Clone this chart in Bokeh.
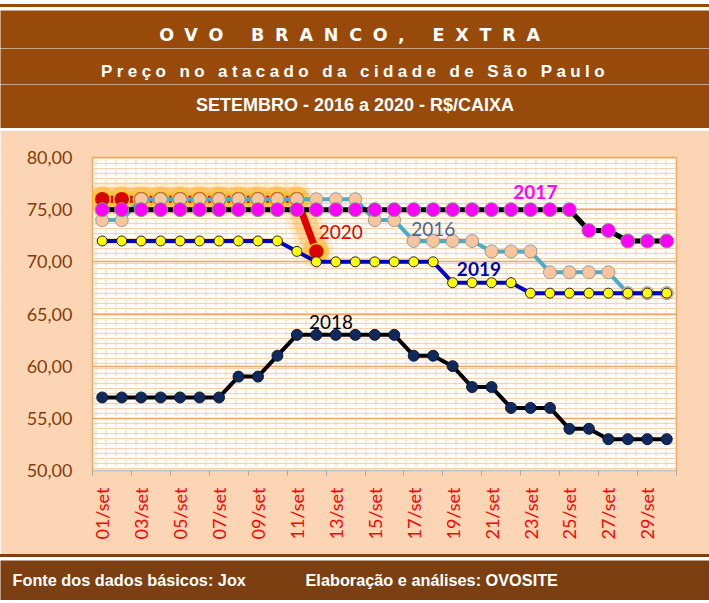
from bokeh.plotting import figure
from bokeh.layouts import column
from bokeh.models import Range1d, FixedTicker, BoxAnnotation, Label, Div
from bokeh.core.properties import value
from bokeh.embed import file_html
from bokeh.resources import INLINE
from math import pi

# ---------------- data ----------------
days = list(range(1, 31))
x_tick_days = [1, 3, 5, 7, 9, 11, 13, 15, 17, 19, 21, 23, 25, 27, 29]
x_tick_labels = ["01/set", "03/set", "05/set", "07/set", "09/set", "11/set", "13/set",
                 "15/set", "17/set", "19/set", "21/set", "23/set", "25/set", "27/set", "29/set"]
y_ticks = [50, 55, 60, 65, 70, 75, 80]
y_tick_labels = ["50,00", "55,00", "60,00", "65,00", "70,00", "75,00", "80,00"]

y2016 = [74, 74, 76, 76, 76, 76, 76, 76, 76, 76, 76, 76, 76, 76, 74,
         74, 72, 72, 72, 72, 71, 71, 71, 69, 69, 69, 69, 67, 67, 67]
y2017 = [75, 75, 75, 75, 75, 75, 75, 75, 75, 75, 75, 75, 75, 75, 75,
         75, 75, 75, 75, 75, 75, 75, 75, 75, 75, 73, 73, 72, 72, 72]
y2018 = [57, 57, 57, 57, 57, 57, 57, 59, 59, 61, 63, 63, 63, 63, 63,
         63, 61, 61, 60, 58, 58, 56, 56, 56, 54, 54, 53, 53, 53, 53]
y2019 = [72, 72, 72, 72, 72, 72, 72, 72, 72, 72, 71, 70, 70, 70, 70,
         70, 70, 70, 68, 68, 68, 68, 67, 67, 67, 67, 67, 67, 67, 67]
y2020 = [76, 76, 76, 76, 76, 76, 76, 76, 76, 76, 76, 71]
days2020 = days[:len(y2020)]

series_names = ["2016", "2017", "2018", "2019", "2020"]
# label anchor positions (day, price) for the series names
label_pos = {"2016": (18.0, 73.1), "2017": (23.25, 76.65), "2018": (12.75, 64.25),
             "2019": (20.35, 69.3), "2020": (13.25, 72.85)}

title_txt = "OVO BRANCO, EXTRA"
sub_txt = "Preço no atacado da cidade de São Paulo"
period_txt = "SETEMBRO - 2016 a 2020 - R$/CAIXA"
footer_left = "Fonte dos dados básicos: Jox"
footer_right = "Elaboração e análises: OVOSITE"

# ---------------- styles ----------------
W = 709
FL, FR = 92, 33
BROWN = "#974A0A"
BROWN_FOOT = "#7B3F12"
PEACH = "#FCD5B5"
TITLE_FONT = "Liberation Sans"
WIDE_FONT = "'DejaVu Sans'"
NARROW_FONT = "'Liberation Sans Narrow', 'Arial Narrow', 'Liberation Sans'"
CHART_FONT = "Lato"


def band(h, color):
    return Div(text="", width=W, height=h, styles={"background-color": color, "margin": "0", "padding": "0"})


def deco_fig(h, color, spacing=None):
    f = figure(width=W, height=h, x_range=Range1d(0, W), y_range=Range1d(h, 0),
               x_axis_type=None, y_axis_type=None, output_backend="svg",
               toolbar_location=None, min_border=0,
               background_fill_color=color, border_fill_color=color)
    f.frame_align = False
    f.outline_line_color = None
    f.grid.visible = False
    if spacing is not None:
        f.styles = {"letter-spacing": f"{spacing}px"}
    return f


def centered_label(fig, txt, y, size, spacing, font, color="white"):
    fig.add_layout(Label(x=W / 2, y=y, text=txt, text_font=font, text_font_style="bold",
                         text_font_size=size, text_color=color, text_align="center",
                         text_baseline="middle", x_offset=-len(txt) * spacing / 2))


T_SP1, T_SP2 = 10.8, 4.4
t1 = deco_fig(38, BROWN, T_SP1)
centered_label(t1, title_txt, 24.5, "17.5px", T_SP1, WIDE_FONT)
t2 = deco_fig(36, BROWN, T_SP2)
centered_label(t2, sub_txt, 23, "17px", T_SP2, TITLE_FONT)
t3 = deco_fig(44, BROWN)
centered_label(t3, period_txt, 20, "18px", 0, NARROW_FONT)

# ---------------- main chart ----------------
p = figure(width=W, height=424, x_range=Range1d(0.5, 30.5), y_range=Range1d(50, 80),
           output_backend="svg", toolbar_location=None,
           min_border_left=FL, min_border_right=FR, min_border_top=27, min_border_bottom=84,
           border_fill_color=PEACH, background_fill_color="#FFFDF9")
p.frame_align = False
p.outline_line_color = "#EFA65E"
p.outline_line_width = 1.5

bricks_h = BoxAnnotation(fill_alpha=0, line_color=None, hatch_pattern="horizontal_line",
                         hatch_color="#F6D2AA", hatch_scale=5, hatch_weight=1, level="image")
bricks_v = BoxAnnotation(fill_alpha=0, line_color=None, hatch_pattern="vertical_dash",
                         hatch_color="#F6D2AA", hatch_scale=10, hatch_weight=1, level="image")
p.add_layout(bricks_h)
p.add_layout(bricks_v)

p.xgrid.visible = False
p.ygrid.ticker = FixedTicker(ticks=y_ticks)
p.ygrid.grid_line_color = "#EBA869"
p.ygrid.grid_line_width = 1.5

minor_bounds = [d - 0.5 for d in x_tick_days] + [days[-1] + 0.5]
p.xaxis.ticker = FixedTicker(ticks=x_tick_days, minor_ticks=minor_bounds)
p.xaxis.major_label_overrides = {d: l for d, l in zip(x_tick_days, x_tick_labels)}
p.xaxis.major_label_orientation = pi / 2
p.xaxis.major_label_text_font = CHART_FONT
p.xaxis.major_label_text_font_size = "18px"
p.xaxis.major_label_text_color = "#FF0000"
p.xaxis.major_tick_line_color = None
p.xaxis.major_tick_out = 0
p.xaxis.major_tick_in = 0
p.xaxis.minor_tick_line_color = "#A6A6A6"
p.xaxis.minor_tick_out = 5
p.xaxis.minor_tick_in = 0
p.xaxis.axis_line_color = "#BFBFBF"
p.xaxis.major_label_standoff = 12

p.yaxis.ticker = FixedTicker(ticks=y_ticks)
p.yaxis.major_label_overrides = {t: l for t, l in zip(y_ticks, y_tick_labels)}
p.yaxis.major_label_text_font = CHART_FONT
p.yaxis.major_label_text_font_size = "18px"
p.yaxis.major_label_text_color = "#843C0C"
p.yaxis.axis_line_color = None
p.yaxis.major_tick_line_color = None
p.yaxis.minor_tick_line_color = None
p.yaxis.major_tick_out = 0
p.yaxis.major_label_standoff = 20

# 2020 glow
p.line(days2020, y2020, line_width=34, color="#FFC060", alpha=0.25, line_join="round", line_cap="round")
p.line(days2020, y2020, line_width=24, color="#FFA830", alpha=0.35, line_join="round", line_cap="round")
p.scatter(days2020, y2020, size=26, color="#FFB830", alpha=0.5, line_color=None)
# 2020
p.line(days2020, y2020, line_width=7, color="#E00000")
p.scatter(days2020, y2020, size=16, fill_color="#D80000", line_color="#FFD200", line_width=1.5)

# 2016
p.line(days, y2016, line_width=4, color="#4BACC6")
p.scatter(days, y2016, size=13, fill_color="#F8C59C", line_color="#9C9C9C", line_width=1)

# 2017
p.line(days, y2017, line_width=5, color="#000000")
p.scatter(days, y2017, size=14, fill_color="#FF00FF", line_color="#7F9F7F", line_width=1)

# 2019
p.line(days, y2019, line_width=4, color="#0000C8")
p.scatter(days, y2019, size=10, fill_color="#FFFF00", line_color="#202020", line_width=1)

# 2018
p.line(days, y2018, line_width=4, color="#000000")
p.scatter(days, y2018, size=11, fill_color="#10295A", line_color="#0A1A3A", line_width=1)

label_colors = {"2016": "#44688F", "2017": "#FF00FF", "2018": "#000000", "2019": "#0000B4", "2020": "#E00000"}
label_styles = {"2016": "normal", "2017": "bold", "2018": "normal", "2019": "bold", "2020": "normal"}
for name in series_names:
    lx, ly = label_pos[name]
    p.text(x=[lx], y=[ly], text=[name], text_font=value(CHART_FONT), text_font_size="19px",
           text_font_style=label_styles[name], text_color=label_colors[name],
           text_align="center", text_baseline="middle")

# ---------------- footer ----------------
ft = deco_fig(40, BROWN_FOOT)
for fx, ftxt in zip([12, 305], [footer_left, footer_right]):
    ft.add_layout(Label(x=fx, y=19, text=ftxt, text_font=NARROW_FONT, text_font_style="bold",
                        text_font_size="16.3px", text_color="white", text_align="left",
                        text_baseline="middle"))

layout = column(band(4, "white"), band(3, BROWN), band(3, "white"), t1, t2, t3, band(2, "white"),
                p, band(3, BROWN_FOOT), band(3, "white"), ft, band(3, "white"), spacing=0)
open("out.html", "w").write(file_html(layout, INLINE))
